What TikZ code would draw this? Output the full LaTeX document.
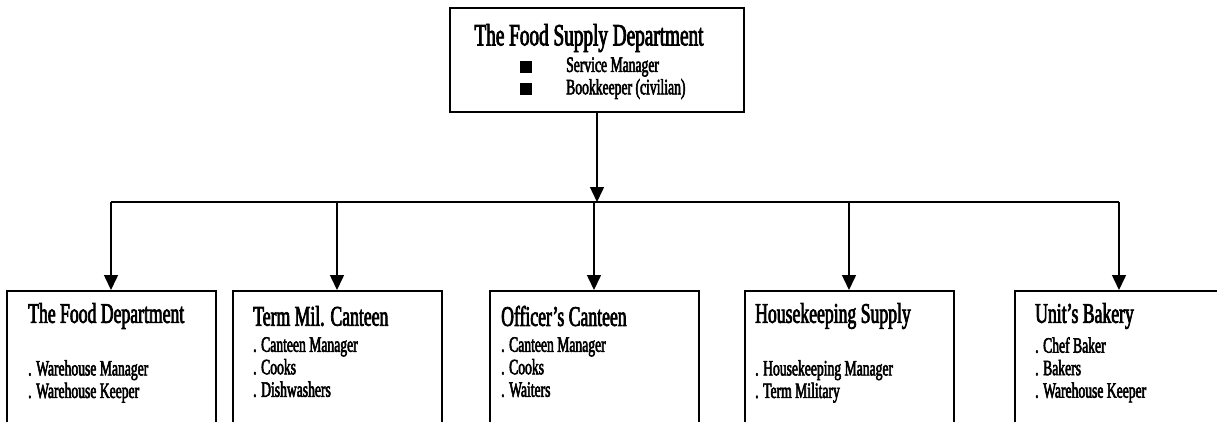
\documentclass[tikz,border=0pt]{standalone}
\usepackage{fontspec}
\setmainfont{Liberation Serif}[FakeStretch=0.62, FakeBold=2.5]
\usetikzlibrary{arrows.meta}

\tikzset{
  unit/.style={draw, line width=2pt, minimum width=209pt, minimum height=150pt, anchor=north},
  head/.style={anchor=west, inner sep=0pt, font=\fontsize{28.5}{30}\selectfont},
  staff/.style={anchor=north west, align=left, inner sep=0pt, font=\fontsize{22}{22.5}\selectfont},
  bullet/.style={fill, minimum size=12pt, inner sep=0pt},
  link/.style={line width=1.5pt, -{Triangle[length=15pt, width=14pt]}},
}

\begin{document}
\begin{tikzpicture}[x=1pt, y=-1pt]
  \useasboundingbox (0,0) rectangle (1217,421);
  \clip (0,0) rectangle (1217,421);

  % head office
  \node[draw, line width=2pt, minimum width=294pt, minimum height=104pt] (Supply) at (597,60) {};
  \node[font=\fontsize{31}{32}\selectfont, inner sep=0pt] (SupplyTitle) at (589,38) {The Food Supply Department};
  \node[bullet] (BulletA) at (526,67) {};
  \node[bullet] (BulletB) at (526,89) {};
  \node[anchor=west, inner sep=0pt, font=\fontsize{22}{22}\selectfont] (ServiceMgr) at (566,67) {Service Manager};
  \node[anchor=west, inner sep=0pt, font=\fontsize{22}{22}\selectfont] (Bookkeeper) at (566,89) {Bookkeeper (civilian)};

  % units
  \node[unit] (Food)    at (111,290) {};
  \node[unit] (Term)    at (337,290) {};
  \node[unit] (Officer) at (594,290) {};
  \node[unit] (House)   at (849,290) {};
  \node[unit] (Bakery)  at (1119,290) {};

  \node[head] (FoodTitle)    at (28,316)   {The Food Department};
  \node[head] (TermTitle)    at (253,316)  {Term Mil. Canteen};
  \node[head] (OfficerTitle) at (501,316)  {Officer’s Canteen};
  \node[head] (HouseTitle)   at (755,316)  {Housekeeping Supply};
  \node[head] (BakeryTitle)  at (1035,316) {Unit’s Bakery};

  \node[staff] (FoodStaff)    at (28,360)   {. Warehouse Manager\\. Warehouse Keeper};
  \node[staff] (TermStaff)    at (253,337)  {. Canteen Manager\\. Cooks\\. Dishwashers};
  \node[staff] (OfficerStaff) at (501,337)  {. Canteen Manager\\. Cooks\\. Waiters};
  \node[staff] (HouseStaff)   at (755,360)  {. Housekeeping Manager\\. Term Military};
  \node[staff] (BakeryStaff)  at (1035,337) {. Chef Baker\\. Bakers\\. Warehouse Keeper};

  % connectors
  \coordinate (Bar) at (597,202);
  \draw[link] (Supply) -- (Bar);
  \draw[line width=1.5pt] (Bar -| Food.north) -- (Bar -| Bakery.north);
  \draw[link] (Bar -| Food.north)    -- (Food);
  \draw[link] (Bar -| Term.north)    -- (Term);
  \draw[link] (Bar -| Officer.north) -- (Officer);
  \draw[link] (Bar -| House.north)   -- (House);
  \draw[link] (Bar -| Bakery.north)  -- (Bakery);
\end{tikzpicture}
\end{document}
